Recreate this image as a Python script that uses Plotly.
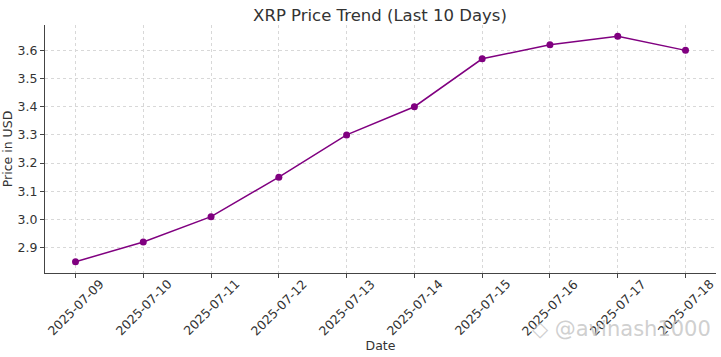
import plotly.graph_objects as go

dates = ["2025-07-09", "2025-07-10", "2025-07-11", "2025-07-12", "2025-07-13",
         "2025-07-14", "2025-07-15", "2025-07-16", "2025-07-17", "2025-07-18"]
prices = [2.85, 2.92, 3.01, 3.15, 3.30, 3.40, 3.57, 3.62, 3.65, 3.60]
y_ticks = [2.9, 3.0, 3.1, 3.2, 3.3, 3.4, 3.5, 3.6]

FONT = "DejaVu Sans"
TXT = "#333333"

fig = go.Figure()
fig.add_trace(go.Scatter(
    x=dates, y=prices, mode="lines+markers",
    line=dict(color="#800080", width=1.5),
    marker=dict(color="#800080", size=7),
    showlegend=False,
))

for d in dates:
    fig.add_annotation(
        x=d, y=0, xref="x", yref="paper", text=d, showarrow=False,
        textangle=-45, xanchor="center", yanchor="middle", yshift=-34,
        font=dict(family=FONT, size=12.5, color=TXT),
    )

fig.add_annotation(
    x=(713 - 45) / 671, y=-(329 - 273) / 248, xref="paper", yref="paper",
    text="\u25C7 @avinash1000",
    showarrow=False, xanchor="right", yanchor="middle",
    font=dict(family=FONT, size=21, color="rgba(195,195,195,0.8)"),
)

fig.update_layout(
    width=721, height=357,
    margin=dict(l=45, r=5, t=25, b=84, autoexpand=False),
    paper_bgcolor="white", plot_bgcolor="white",
    title=dict(text="XRP Price Trend (Last 10 Days)", x=380 / 721, xanchor="center",
               xref="container", y=1 - 15 / 357, yref="container", yanchor="middle",
               font=dict(family=FONT, size=16.5, color=TXT)),
    font=dict(family=FONT, size=12, color=TXT),
)

fig.update_xaxes(
    type="category", range=[-0.45, 9.45], automargin=False,
    showticklabels=False, ticks="outside", ticklen=4, tickcolor="#444",
    showline=True, linecolor="#444", linewidth=1, mirror=False,
    showgrid=True, gridcolor="#d8d8d8", griddash="dot", gridwidth=1,
    title=dict(text="Date", font=dict(family=FONT, size=12.5, color=TXT), standoff=64),
    zeroline=False,
)
fig.update_yaxes(
    range=[2.81, 3.69], tickvals=y_ticks, ticktext=[f"{v:.1f}" for v in y_ticks],
    automargin=False,
    ticks="outside", ticklen=4, tickcolor="#444",
    tickfont=dict(family=FONT, size=12.5, color=TXT),
    showline=True, linecolor="#444", linewidth=1,
    showgrid=True, gridcolor="#d8d8d8", griddash="dot", gridwidth=1,
    title=dict(text="Price in USD", font=dict(family=FONT, size=12.5, color=TXT), standoff=5),
    zeroline=False,
)

fig.write_html("out.html", config={"displayModeBar": False},
               post_script="document.body.style.margin='0';document.body.style.overflow='hidden';")
